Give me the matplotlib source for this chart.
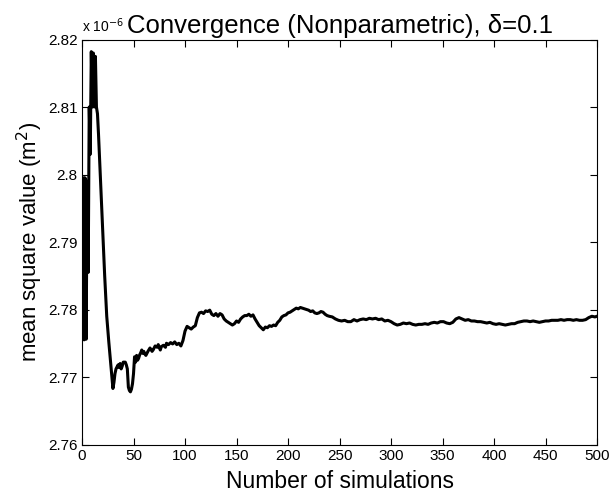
import numpy as np
import matplotlib.pyplot as plt

# running mean of the squared response, in units of 1e-6 m^2
n_sims = [1, 2, 3, 4, 5, 6, 7, 8, 9, 10, 11, 12, 13, 14, 15, 16, 17, 18, 19, 20,
          21, 22, 23, 24, 25, 26, 27, 28, 29, 30, 31, 32, 33, 35, 36, 37, 38, 39, 40, 42,
          43, 44, 45, 46, 47, 48, 49, 50, 51, 52, 53, 54, 55, 56, 57, 58, 59, 60, 61, 62,
          64, 66, 68, 69, 71, 73, 74, 76, 77, 79, 81, 82, 84, 86, 88, 90, 92, 94, 96, 98,
          100, 102, 104, 106, 108, 110, 112, 114, 116, 118, 120, 122, 124, 126, 128, 130, 132, 134, 136, 138,
          140, 143, 146, 148, 150, 152, 154, 156, 158, 160, 162, 164, 166, 168, 170, 172, 174, 176, 178, 180,
          182, 184, 186, 188, 190, 192, 194, 196, 198, 200, 202, 204, 206, 208, 210, 212, 214, 216, 218, 220,
          222, 224, 226, 228, 230, 232, 234, 236, 238, 240, 243, 246, 249, 252, 255, 258, 261, 264, 267, 270,
          273, 276, 279, 282, 285, 288, 291, 294, 297, 300, 303, 306, 309, 312, 315, 318, 321, 324, 327, 330,
          333, 336, 339, 342, 345, 348, 351, 354, 357, 360, 363, 366, 369, 372, 375, 378, 381, 384, 387, 390,
          393, 396, 399, 402, 405, 408, 411, 414, 417, 420, 423, 426, 429, 432, 435, 438, 441, 444, 447, 450,
          453, 456, 459, 462, 465, 468, 471, 474, 477, 480, 483, 486, 489, 492, 495, 498, 500]

msv = [2.7995, 2.7755, 2.7995, 2.7756, 2.7990, 2.7855, 2.8100, 2.8030, 2.8182, 2.8100,
       2.8180, 2.8100, 2.8175, 2.8100, 2.8090, 2.8060, 2.8025, 2.7990, 2.7955, 2.7920,
       2.7885, 2.7850, 2.7820, 2.7790, 2.7770, 2.7752, 2.7735, 2.7718, 2.7702, 2.7683,
       2.7692, 2.7705, 2.7712, 2.7718, 2.7714, 2.7720, 2.7712, 2.7716, 2.7722, 2.7722,
       2.7718, 2.7712, 2.7685, 2.7680, 2.7678, 2.7682, 2.7690, 2.7705, 2.7730, 2.7722,
       2.7732, 2.7725, 2.7728, 2.7733, 2.7736, 2.7740, 2.7735, 2.7738, 2.7734, 2.7732,
       2.7738, 2.7743, 2.7738, 2.7740, 2.7746, 2.7744, 2.7748, 2.7740, 2.7745, 2.7747,
       2.7744, 2.7750, 2.7748, 2.7751, 2.7749, 2.7752, 2.7748, 2.7750, 2.7746, 2.7754,
       2.7768, 2.7775, 2.7773, 2.7771, 2.7774, 2.7776, 2.7788, 2.7795, 2.7796, 2.7794,
       2.7798, 2.7797, 2.7799, 2.7793, 2.7791, 2.7794, 2.7790, 2.7794, 2.7792, 2.7786,
       2.7783, 2.7780, 2.7777, 2.7779, 2.7783, 2.7781, 2.7786, 2.7789, 2.7791, 2.7791,
       2.7793, 2.7790, 2.7792, 2.7786, 2.7781, 2.7776, 2.7773, 2.7770, 2.7774, 2.7773,
       2.7776, 2.7775, 2.7777, 2.7776, 2.7781, 2.7784, 2.7789, 2.7791, 2.7792, 2.7795,
       2.7796, 2.7798, 2.7800, 2.7802, 2.7801, 2.7803, 2.7802, 2.7801, 2.7800, 2.7799,
       2.7797, 2.7798, 2.7795, 2.7794, 2.7795, 2.7797, 2.7796, 2.7793, 2.7791, 2.7790,
       2.7789, 2.7786, 2.7784, 2.7783, 2.7784, 2.7782, 2.7782, 2.7785, 2.7783, 2.7785,
       2.7786, 2.7785, 2.7787, 2.7786, 2.7787, 2.7785, 2.7786, 2.7783, 2.7784, 2.7782,
       2.7779, 2.7777, 2.7778, 2.7780, 2.7779, 2.7780, 2.7778, 2.7777, 2.7778, 2.7778,
       2.7779, 2.7778, 2.7780, 2.7781, 2.7780, 2.7782, 2.7782, 2.7780, 2.7779, 2.7781,
       2.7786, 2.7788, 2.7786, 2.7784, 2.7785, 2.7783, 2.7783, 2.7782, 2.7782, 2.7781,
       2.7780, 2.7781, 2.7779, 2.7778, 2.7779, 2.7778, 2.7777, 2.7778, 2.7779, 2.7779,
       2.7781, 2.7782, 2.7783, 2.7783, 2.7782, 2.7783, 2.7782, 2.7781, 2.7782, 2.7783,
       2.7783, 2.7784, 2.7784, 2.7784, 2.7785, 2.7784, 2.7785, 2.7785, 2.7784, 2.7785,
       2.7784, 2.7784, 2.7785, 2.7788, 2.7790, 2.7789, 2.7790]

x_ticks = [0, 50, 100, 150, 200, 250, 300, 350, 400, 450, 500]
y_ticks = [2.76, 2.77, 2.78, 2.79, 2.80, 2.81, 2.82]
y_tick_labels = ['2.76', '2.77', '2.78', '2.79', '2.8', '2.81', '2.82']

plt.rcParams['font.family'] = ['Liberation Sans', 'DejaVu Sans']
narrow = ['Liberation Sans Narrow', 'Liberation Sans']

fig = plt.figure(figsize=(6.13, 4.95), dpi=100)
ax = fig.add_axes([0.1338, 0.1020, 0.8401, 0.8182])

ax.plot(n_sims, msv, color='black', linewidth=2.2)

ax.set_xlim(0, 500)
ax.set_ylim(2.76, 2.82)
ax.set_xticks(x_ticks)
ax.set_yticks(y_ticks)
ax.set_yticklabels(y_tick_labels)
ax.tick_params(direction='in', length=5, width=0.8, top=True, right=True,
               labelsize=11, pad=3)
for lbl in ax.get_xticklabels() + ax.get_yticklabels():
    lbl.set_family(narrow)
for sp in ax.spines.values():
    sp.set_linewidth(0.8)

ax.set_title('Convergence (Nonparametric), \u03b4=0.1', fontsize=18.5, pad=5)
ax.set_xlabel('Number of simulations', fontsize=16.5, labelpad=5)
ax.set_ylabel('mean square value (m$^2$)', fontsize=16, labelpad=2)
ax.text(0.0, 1.012, 'x 10$^{-6}$', transform=ax.transAxes, fontsize=10,
        ha='left', va='bottom', family=narrow)

fig.savefig('out.png', dpi=100)
